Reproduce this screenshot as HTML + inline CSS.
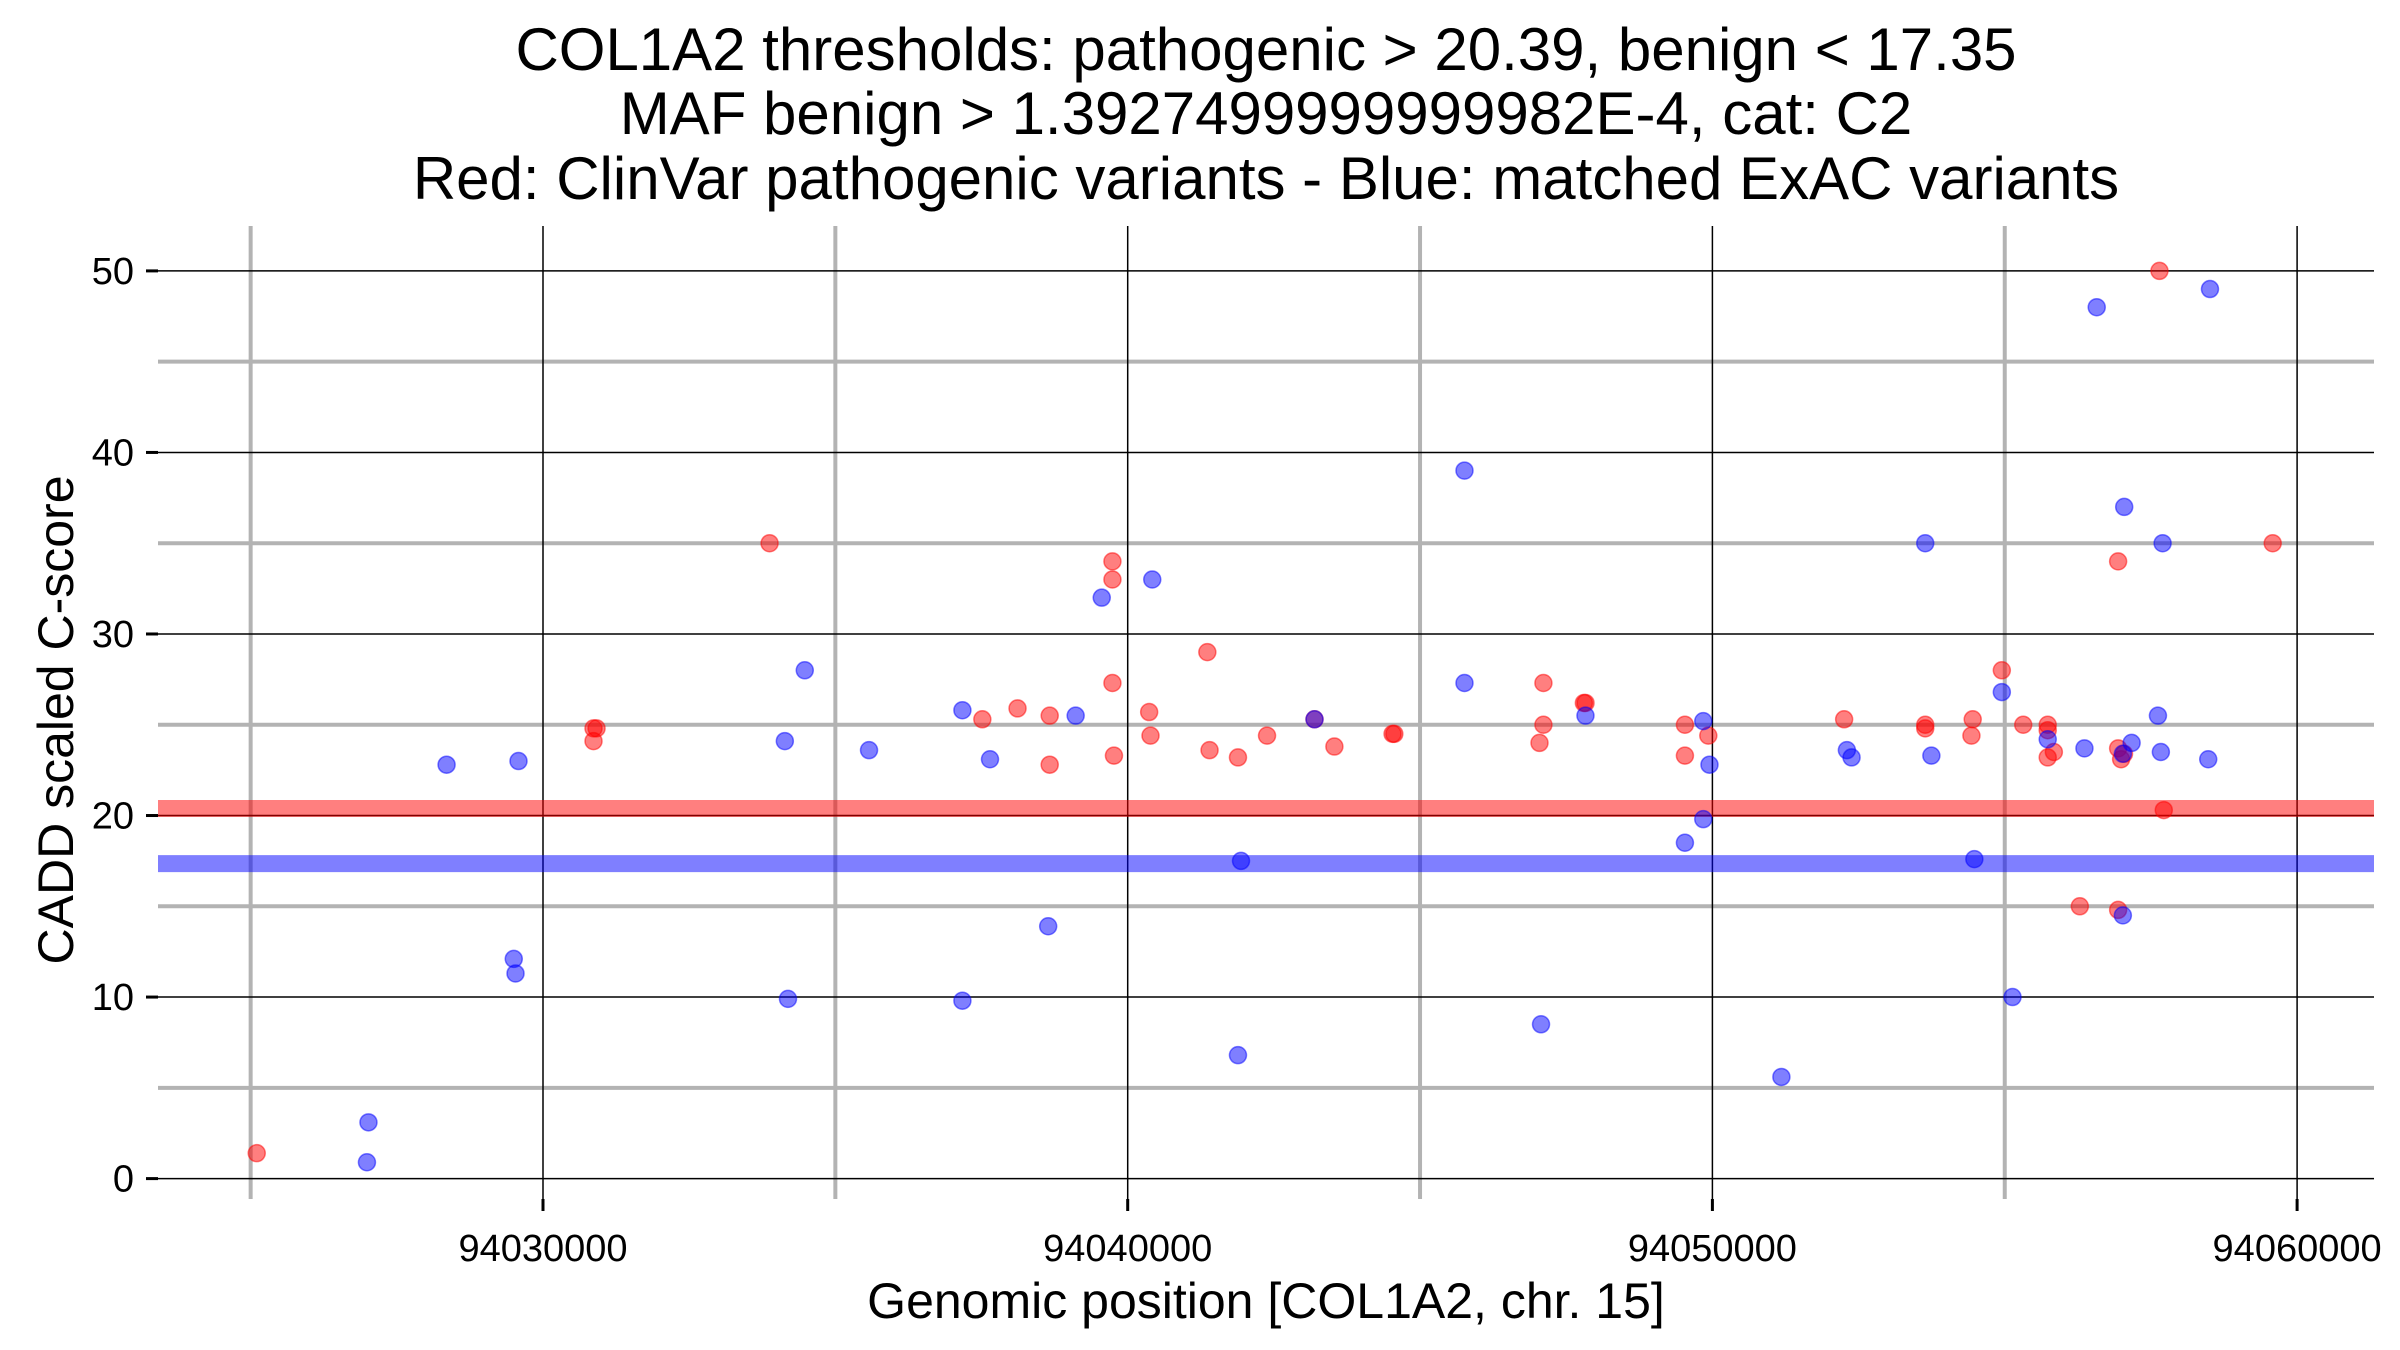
<!DOCTYPE html>
<html><head><meta charset="utf-8"><style>
html,body{margin:0;padding:0;background:#fff}
svg{display:block;font-family:"Liberation Sans",Arial,sans-serif}
</style></head><body>
<svg id="chart" width="2400" height="1350" viewBox="0 0 2400 1350" xmlns="http://www.w3.org/2000/svg">
<g font-size="60" text-anchor="middle" fill="#000">
<text x="1266" y="70">COL1A2 thresholds: pathogenic &gt; 20.39, benign &lt; 17.35</text>
<text x="1266" y="134">MAF benign &gt; 1.3927499999999982E-4, cat: C2</text>
<text x="1266" y="199">Red: ClinVar pathogenic variants - Blue: matched ExAC variants</text>
</g>
<g id="grid"></g>
<g id="bands"></g>
<g id="points"></g>
<g id="axes"></g>
<text x="1266" y="1318" font-size="50" text-anchor="middle">Genomic position [COL1A2, chr. 15]</text>
<text transform="translate(73,720) rotate(-90)" font-size="50" text-anchor="middle">CADD scaled C-score</text>
</svg>
<script>
const xTicks=[94030000,94040000,94050000,94060000];
const xMinor=[94025000,94035000,94045000,94055000];
const yTicks=[0,10,20,30,40,50];
const yMinor=[5,15,25,35,45];
const pathThreshold=20.39;
const benignThreshold=17.35;
const redX=[94025104,94030864,94030916,94030864,94033875,94037514,94038116,94038666,94038666,94039739,94039739,94039739,94039765,94040367,94040390,94041362,94041400,94041886,94042383,94043195,94043535,94044530,94044560,94047043,94047110,94047110,94047802,94047830,94049530,94049530,94049930,94052253,94053640,94053640,94054452,94054430,94054950,94055316,94055735,94055735,94055735,94055840,94056284,94056939,94056939,94056990,94057040,94056939,94057646,94057720,94059583];
const redY=[1.4,24.8,24.8,24.1,35,25.3,25.9,25.5,22.8,34,33,27.3,23.3,25.7,24.4,29,23.6,23.2,24.4,25.3,23.8,24.5,24.5,24.0,25.0,27.3,26.2,26.2,25.0,23.3,24.4,25.3,24.8,25.0,25.3,24.4,28,25.0,25.0,24.7,23.2,23.5,15,34,23.7,23.1,23.4,14.8,50,20.3,35];
const blueX=[94026989,94027015,94028351,94029581,94029500,94029530,94034136,94034477,94034190,94035576,94037173,94037173,94037645,94038640,94039110,94039556,94040420,94041938,94041886,94043195,94045760,94045760,94047829,94047069,94049530,94049844,94049950,94049844,94051180,94052300,94052380,94053640,94053745,94054480,94054950,94055133,94055735,94056363,94056573,94057043,94057020,94057170,94057020,94057620,94057670,94057700,94058510,94058480];
const blueY=[0.9,3.1,22.8,23.0,12.1,11.3,24.1,28,9.9,23.6,25.8,9.8,23.1,13.9,25.5,32,33,17.5,6.8,25.3,39,27.3,25.5,8.5,18.5,25.2,22.8,19.8,5.6,23.6,23.2,35,23.3,17.6,26.8,10.0,24.2,23.7,48,37,23.4,24.0,14.5,25.5,23.5,35,49,23.1];

const L=158,R=2374,T=226,B=1199;
const X=v=>543+(v-94030000)*584.7/10000;
const Y=v=>1178.6-v*18.154;
const NS='http://www.w3.org/2000/svg';
function mk(tag,attrs,parent){const e=document.createElementNS(NS,tag);for(const k in attrs)e.setAttribute(k,attrs[k]);parent.appendChild(e);return e;}
const grid=document.getElementById('grid'),bands=document.getElementById('bands'),pts=document.getElementById('points'),axes=document.getElementById('axes');
xMinor.forEach(v=>{const e=mk('line',{x1:X(v),x2:X(v),y1:T,y2:B,stroke:'#b3b3b3','stroke-width':4},grid);

});
yMinor.forEach(v=>{const e=mk('line',{x1:L,x2:R,y1:Y(v),y2:Y(v),stroke:'#b3b3b3','stroke-width':4},grid);

});
xTicks.forEach(v=>{const e=mk('line',{x1:X(v),x2:X(v),y1:T,y2:B,stroke:'#000','stroke-width':1.5},grid);


const t=mk('line',{x1:X(v),x2:X(v),y1:B,y2:B+12,stroke:'#000','stroke-width':3},axes);


const l=mk('text',{x:X(v),y:B+62,'font-size':38,'text-anchor':'middle'},axes);l.textContent=v;

});
yTicks.forEach(v=>{const e=mk('line',{x1:L,x2:R,y1:Y(v),y2:Y(v),stroke:'#000','stroke-width':1.5},grid);


const t=mk('line',{x1:L-12,x2:L,y1:Y(v),y2:Y(v),stroke:'#000','stroke-width':3},axes);


const l=mk('text',{x:L-24,y:Y(v)+13,'font-size':38,'text-anchor':'end'},axes);l.textContent=v;

});
const rb=mk('line',{x1:L,x2:R,y1:Y(pathThreshold),y2:Y(pathThreshold),stroke:'rgba(255,0,0,0.5)','stroke-width':17},bands);


const bb=mk('line',{x1:L,x2:R,y1:Y(benignThreshold),y2:Y(benignThreshold),stroke:'rgba(0,0,255,0.5)','stroke-width':17},bands);


redX.forEach((v,i)=>{const c=mk('circle',{cx:X(v),cy:Y(redY[i]),r:8.5,fill:'rgba(255,0,0,0.5)',stroke:'rgba(255,0,0,0.5)','stroke-width':1.5},pts);

});
blueX.forEach((v,i)=>{const c=mk('circle',{cx:X(v),cy:Y(blueY[i]),r:8.5,fill:'rgba(0,0,255,0.5)',stroke:'rgba(0,0,255,0.5)','stroke-width':1.5},pts);

});
</script>
</body></html>
